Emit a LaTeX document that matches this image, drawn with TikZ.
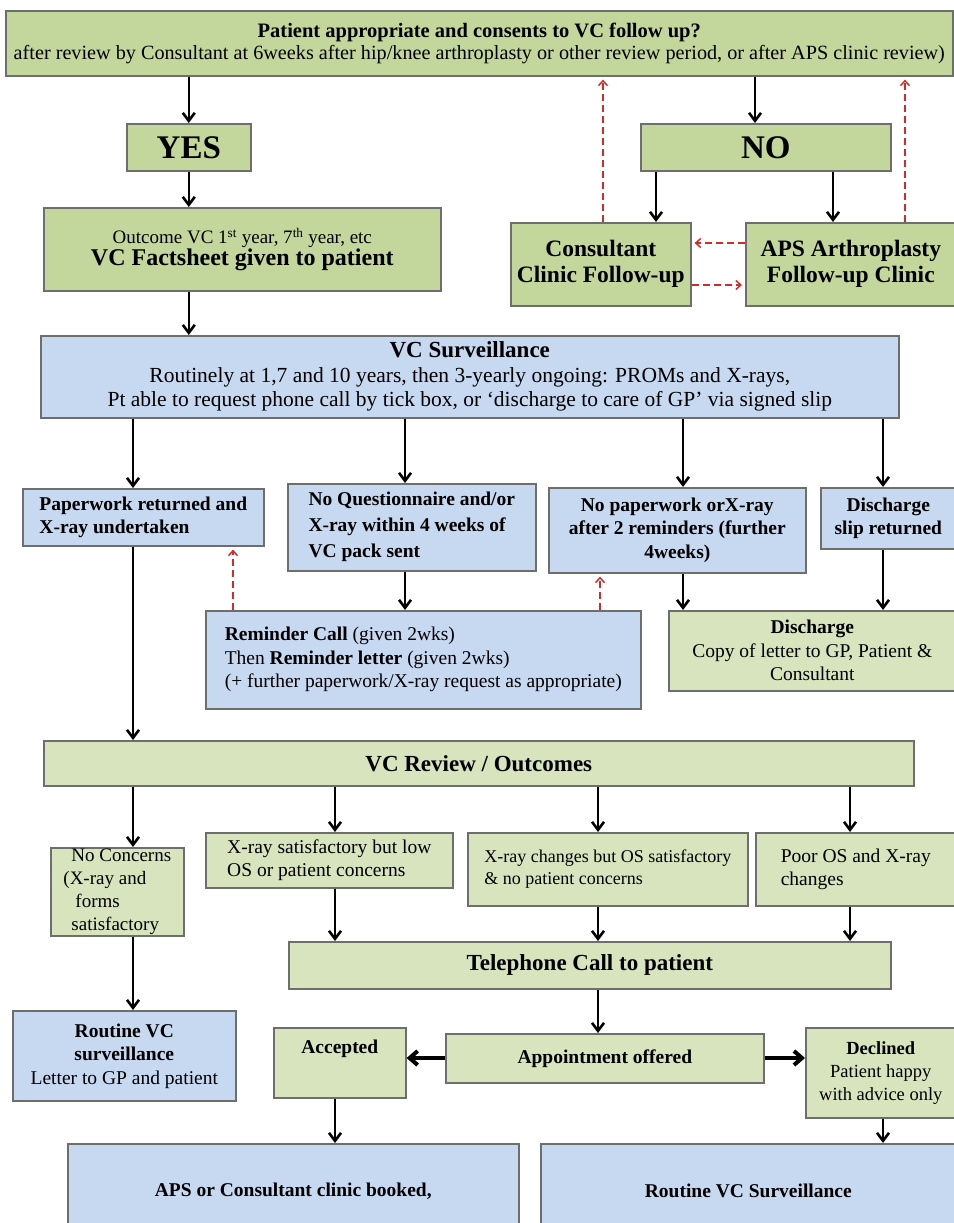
\documentclass[tikz,border=0pt]{standalone}
\usepackage{fontspec}
\setmainfont{Liberation Serif}
\usepackage{xcolor}
\usetikzlibrary{arrows.meta,positioning,calc}
\definecolor{topgreen}{HTML}{C3D69B}
\definecolor{lowgreen}{HTML}{D7E4BD}
\definecolor{paleblue}{HTML}{C6D9F1}
\definecolor{rim}{HTML}{6E6E6E}
\definecolor{backred}{HTML}{D42A2A}

\begin{document}
\begin{tikzpicture}[x=1pt,y=-1pt,>={Straight Barb[length=8pt,width=12pt]},thick,
  box/.style={draw=rim,line width=1.6pt,inner sep=0pt,anchor=north west,align=center},
  dkg/.style={box,fill=topgreen},
  ltg/.style={box,fill=lowgreen},
  blu/.style={box,fill=paleblue},
  wh/.style 2 args={minimum width=#1pt,minimum height=#2pt},
  big/.style={font=\fontsize{33}{38}\selectfont\bfseries},
  head/.style={font=\fontsize{23}{27}\selectfont\bfseries},
  body/.style={font=\fontsize{19.5}{23.5}\selectfont},
  bodyb/.style={font=\fontsize{19.5}{23.5}\selectfont\bfseries},
  flow/.style={->,line width=2.6pt},
  heavy/.style={->,line width=4pt,>={Straight Barb[length=8pt,width=14pt]}},
  back/.style={->,backred,line width=1.5pt,dash pattern=on 7pt off 4pt,shorten >=3pt,>={Straight Barb[length=5pt,width=9pt]}}]
\useasboundingbox (0,0) rectangle (953,1223);

\node[dkg,wh={947}{65}] (consent) at (5,10) {{\fontsize{20.5}{24}\selectfont\bfseries Patient appropriate and consents to VC follow up?}\\[2pt]
  {\fontsize{20.2}{23}\selectfont after review by Consultant at 6weeks after hip/knee arthroplasty or other review period, or after APS clinic review)}};
\node[dkg,wh={124}{47},big] (yes) at (126,123) {YES};
\node[dkg,wh={250}{47},big] (no) at (640,123) {NO};
\node[dkg,wh={397}{83}] (fact) at (43,207) {{\fontsize{19}{23}\selectfont Outcome VC 1\textsuperscript{st} year, 7\textsuperscript{th} year, etc}\\
  {\fontsize{24}{28}\selectfont\bfseries VC Factsheet given to patient}};
\node[dkg,wh={180}{83},font=\fontsize{23.5}{26}\selectfont\bfseries] (cons) at (510,222) {Consultant\\Clinic Follow-up};
\node[dkg,wh={210}{83},font=\fontsize{23.5}{26}\selectfont\bfseries] (aps) at (745,222) {APS Arthroplasty\\Follow-up Clinic};

\node[blu,wh={858}{82},font=\fontsize{21.5}{24}\selectfont] (surv) at (40,335) {{\bfseries\fontsize{23}{27}\selectfont VC Surveillance}\\[1pt]
  Routinely at 1,7 and 10 years, then 3-yearly ongoing: PROMs and X-rays,\\
  Pt able to request phone call by tick box, or ‘discharge to care of GP’ via signed slip};

\node[blu,wh={241}{57},bodyb,align=left] (paper) at (22,488) {Paperwork returned and\\X-ray undertaken};
\node[blu,wh={248}{87},align=left,font=\fontsize{19.5}{26}\selectfont\bfseries] (noq) at (287,483) {No Questionnaire and/or\\X-ray within 4 weeks of\\VC pack sent};
\node[blu,wh={257}{85},bodyb] (noppw) at (548,487) {No paperwork orX-ray\\after 2 reminders (further\\4weeks)};
\node[blu,wh={135}{61},bodyb] (slip) at (820,487) {Discharge\\slip returned};
\node[blu,wh={435}{98},body,align=left] (remind) at (205,610) {\textbf{Reminder Call} (given 2wks)\\
  Then \textbf{Reminder letter} (given 2wks)\\(+ further paperwork/X-ray request as appropriate)};
\node[ltg,wh={287}{80},body] (disch) at (668,610) {\textbf{Discharge}\\Copy of letter to GP, Patient \&\\Consultant};

\node[ltg,wh={870}{45},head] (review) at (43,740) {VC Review / Outcomes};
\node[ltg,wh={133}{88},align=left,font=\fontsize{19}{23}\selectfont] (nocon) at (50,847) {\hspace{8pt}No Concerns\\(X-ray and\\\hspace{12pt}forms\\\hspace{8pt}satisfactory};
\node[ltg,wh={247}{55},body,align=left] (xsat) at (205,832) {X-ray satisfactory but low\\OS or patient concerns};
\node[ltg,wh={280}{73},align=left,font=\fontsize{18}{22}\selectfont] (xchg) at (467,832) {X-ray changes but OS satisfactory\\\& no patient concerns};
\node[ltg,wh={200}{73},body,align=left] (poor) at (755,832) {Poor OS and X-ray\\changes};
\node[ltg,wh={602}{47},head] (phone) at (288,941) {Telephone Call to patient};

\node[blu,wh={223}{90},body] (routine) at (12,1010) {\textbf{Routine VC}\\\textbf{surveillance}\\Letter to GP and patient};
\node[ltg,wh={132}{70},body] (accept) at (273,1027) {\textbf{Accepted}\\[8pt]\mbox{}};
\node[ltg,wh={318}{49},bodyb] (appt) at (445,1033) {Appointment offered};
\node[ltg,wh={150}{90},font=\fontsize{18.5}{23}\selectfont] (decl) at (805,1027) {\textbf{Declined}\\Patient happy\\with advice only};
\node[blu,wh={451}{95},bodyb] (booked) at (67,1143) {APS or Consultant clinic booked,};
\node[blu,wh={415}{95},bodyb] (routvc) at (540,1143) {Routine VC Surveillance};

\coordinate (cA) at (133,0); \coordinate (cB) at (405,0); \coordinate (cC) at (683,0);
\coordinate (cD) at (883,0); \coordinate (cE) at (335,0); \coordinate (cF) at (598,0);
\coordinate (cG) at (850,0); \coordinate (cH) at (755,0); \coordinate (cI) at (656,0);
\coordinate (cJ) at (833,0); \coordinate (cK) at (603,0); \coordinate (cL) at (905,0);
\coordinate (cM) at (233,0); \coordinate (cN) at (600,0);
\coordinate (rA) at (0,243); \coordinate (rB) at (0,285); \coordinate (rC) at (0,1058);

\draw[flow] (consent.south -| yes.north) -- (yes.north);
\draw[flow] (consent.south -| cH) -- (no.north -| cH);
\draw[flow] (yes.south) -- (yes.south |- fact.north);
\draw[flow] (fact.south -| yes.south) -- (surv.north -| yes.south);
\draw[flow] (no.south -| cI) -- (cons.north -| cI);
\draw[flow] (no.south -| cJ) -- (aps.north -| cJ);
\draw[back] (cons.north -| cK) -- (consent.south -| cK);
\draw[back] (aps.north -| cL) -- (consent.south -| cL);
\draw[back] (aps.west |- rA) -- (cons.east |- rA);
\draw[back] (cons.east |- rB) -- (aps.west |- rB);

\draw[flow] (surv.south -| cA) -- (paper.north -| cA);
\draw[flow] (surv.south -| cB) -- (noq.north -| cB);
\draw[flow] (surv.south -| cC) -- (noppw.north -| cC);
\draw[flow] (surv.south -| cD) -- (slip.north -| cD);
\draw[flow] (noq.south -| cB) -- (remind.north -| cB);
\draw[flow] (noppw.south -| cC) -- (disch.north -| cC);
\draw[flow] (slip.south -| cD) -- (disch.north -| cD);
\draw[back] (remind.north -| cM) -- (paper.south -| cM);
\draw[back] (remind.north -| cN) -- (noppw.south -| cN);
\draw[flow] (paper.south -| cA) -- (review.north -| cA);

\draw[flow] (review.south -| cA) -- (nocon.north -| cA);
\draw[flow] (review.south -| cE) -- (xsat.north -| cE);
\draw[flow] (review.south -| cF) -- (xchg.north -| cF);
\draw[flow] (review.south -| cG) -- (poor.north -| cG);
\draw[flow] (xsat.south -| cE) -- (phone.north -| cE);
\draw[flow] (xchg.south -| cF) -- (phone.north -| cF);
\draw[flow] (poor.south -| cG) -- (phone.north -| cG);
\draw[flow] (nocon.south -| cA) -- (routine.north -| cA);
\draw[flow] (phone.south -| cF) -- (appt.north -| cF);
\draw[heavy] (appt.west |- rC) -- (accept.east |- rC);
\draw[heavy] (appt.east |- rC) -- (decl.west |- rC);
\draw[flow] (accept.south -| cE) -- (booked.north -| cE);
\draw[flow] (decl.south -| cD) -- (routvc.north -| cD);
\end{tikzpicture}
\end{document}
